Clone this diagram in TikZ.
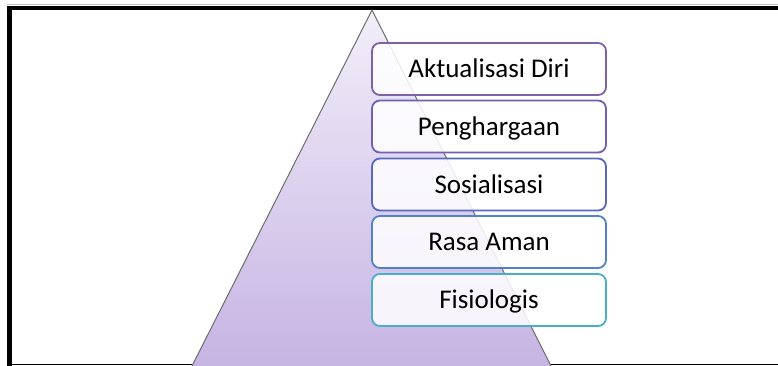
\documentclass[tikz,border=0pt]{standalone}
\usepackage{fontspec}
\setmainfont{Carlito}
\definecolor{cA}{HTML}{7E62A8}
\definecolor{cB}{HTML}{735FB2}
\definecolor{cC}{HTML}{5869BC}
\definecolor{cD}{HTML}{5182C4}
\definecolor{cE}{HTML}{49AEC8}
\definecolor{triTop}{HTML}{F2EEF9}
\definecolor{triBot}{HTML}{C6B4E3}
\tikzset{
  levelbox/.style={draw=#1, line width=1.8pt, rounded corners=8pt, fill=white,
    fill opacity=0.85, text opacity=1, minimum width=234pt, minimum height=52pt,
    inner sep=0pt, text height=17.5pt, text depth=0pt, font=\fontsize{27}{31}\selectfont}
}
\begin{document}
\begin{tikzpicture}[x=1pt,y=-1pt]
\useasboundingbox (0,0) rectangle (778,366);
% frame
\draw[gray!50, line width=1pt] (7,4.5) -- (778,4.5);
\draw[black, line width=4.5pt] (9.5,366) -- (9.5,8) -- (778,8);
\draw[black, line width=1.5pt] (7,364.5) -- (778,364.5);
% pyramid
\coordinate (apex) at (372,10);
\coordinate (bl) at (192,366);
\coordinate (br) at (551,366);
\shade[top color=triTop, bottom color=triBot] (apex) -- (bl) -- (br) -- cycle;
\draw[gray!85!black, line width=1pt] (bl) -- (apex) -- (br);
% boxes
\node[levelbox=cA] (b1) at (489,69) {Aktualisasi Diri};
\node[levelbox=cB] (b2) at (489,126.5) {Penghargaan};
\node[levelbox=cC] (b3) at (489,184.5) {Sosialisasi};
\node[levelbox=cD] (b4) at (489,242) {Rasa Aman};
\node[levelbox=cE] (b5) at (489,300) {Fisiologis};
\end{tikzpicture}
\end{document}
